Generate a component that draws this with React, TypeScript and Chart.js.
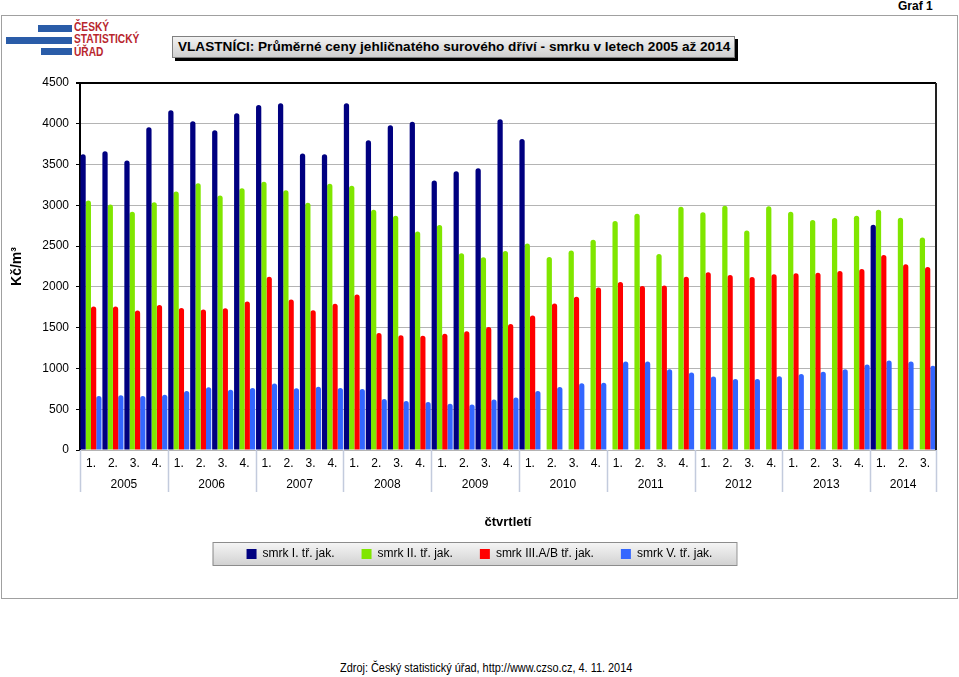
import React, { useEffect, useRef } from "react";
import { Chart, registerables } from "chart.js";

Chart.register(...registerables);

const years = ["2005", "2006", "2007", "2008", "2009", "2010", "2011", "2012", "2013", "2014"];
const quartersPerYear = [4, 4, 4, 4, 4, 4, 4, 4, 4, 3];
const quarterLabels = [
  "1.", "2.", "3.", "4.", "1.", "2.", "3.", "4.", "1.", "2.", "3.", "4.",
  "1.", "2.", "3.", "4.", "1.", "2.", "3.", "4.", "1.", "2.", "3.", "4.",
  "1.", "2.", "3.", "4.", "1.", "2.", "3.", "4.", "1.", "2.", "3.", "4.",
  "1.", "2.", "3.",
];
const yTicks = [0, 500, 1000, 1500, 2000, 2500, 3000, 3500, 4000, 4500];

const smrkI = [
  3625, 3662, 3551, 3958, 4167, 4032, 3921, 4130, 4229, 4253, 3637, 3625,
  4253, 3797, 3982, 4024, 3304, 3419, 3456, 4057, 3814, null, null, null,
  null, null, null, null, null, null, null, null, null, null, null, null,
  2762, null, null,
];
const smrkII = [
  3058, 3009, 2922, 3037, 3169, 3271, 3120, 3210, 3288, 3185, 3033, 3264,
  3239, 2947, 2873, 2680, 2758, 2413, 2364, 2441, 2531, 2367, 2445, 2577,
  2807, 2898, 2404, 2984, 2914, 2996, 2692, 2988, 2922, 2820, 2845, 2873,
  2947, 2848, 2605,
];
const smrkIII = [
  1759, 1759, 1710, 1779, 1742, 1722, 1739, 1821, 2125, 1846, 1714, 1792,
  1907, 1434, 1406, 1402, 1426, 1455, 1508, 1545, 1648, 1796, 1878, 1994,
  2059, 2010, 2018, 2125, 2178, 2145, 2121, 2154, 2166, 2174, 2195, 2219,
  2392, 2277, 2244,
];
const smrkV = [
  662, 670, 662, 678, 724, 768, 740, 761, 814, 756, 777, 761,
  748, 625, 600, 588, 567, 559, 620, 645, 724, 773, 818, 826,
  1085, 1085, 990, 949, 900, 872, 872, 904, 933, 958, 990, 1048,
  1097, 1085, 1032,
];
const seriesNames = ["smrk I. tř. jak.", "smrk II. tř. jak.", "smrk III.A/B tř. jak.", "smrk V. tř. jak."];
const seriesColors = ["#000080", "#80e600", "#ff0000", "#3366ff"];

const FONT = '"Liberation Sans", Arial, sans-serif';

const decorPlugin = {
  id: "decor",
  beforeDraw(chart: any) {
    const lg = chart.legend;
    const hb = lg && lg.legendHitBoxes;
    if (hb && hb.length) {
      const ctx = chart.ctx;
      const left = hb[0].left - 34;
      const last = hb[hb.length - 1];
      const right = last.left + last.width + 24;
      const top = hb[0].top - 6;
      const bottom = hb[0].top + hb[0].height + 5;
      ctx.save();
      const g = ctx.createLinearGradient(0, top, 0, bottom);
      g.addColorStop(0, "#f6f6f6");
      g.addColorStop(1, "#d2d2d2");
      ctx.fillStyle = g;
      ctx.fillRect(left, top, right - left, bottom - top);
      ctx.strokeStyle = "#8c8c8c";
      ctx.lineWidth = 1;
      ctx.strokeRect(left + 0.5, top + 0.5, right - left, bottom - top);
      ctx.restore();
    }
  },
  afterDraw(chart: any) {
    const { ctx, chartArea } = chart;
    const xs = chart.scales.x;
    ctx.save();
    ctx.strokeStyle = "#222";
    ctx.lineWidth = 2;
    ctx.beginPath();
    ctx.moveTo(chartArea.right, chartArea.top);
    ctx.lineTo(chartArea.right, chartArea.bottom);
    ctx.stroke();
    let b = 0;
    const bounds = [0];
    quartersPerYear.forEach((q) => {
      b += q;
      bounds.push(b);
    });
    ctx.strokeStyle = "#c3cbdd";
    ctx.lineWidth = 1.5;
    bounds.forEach((bd) => {
      const x = Math.round(xs.getPixelForValue(bd - 0.5)) + 0.5;
      ctx.beginPath();
      ctx.moveTo(x, chartArea.bottom);
      ctx.lineTo(x, chartArea.bottom + 42);
      ctx.stroke();
    });
    ctx.fillStyle = "#000";
    ctx.font = "12px " + FONT;
    ctx.textAlign = "center";
    ctx.textBaseline = "middle";
    years.forEach((yr, i) => {
      const x0 = xs.getPixelForValue(bounds[i] - 0.5);
      const x1 = xs.getPixelForValue(bounds[i + 1] - 0.5);
      ctx.fillText(yr, (x0 + x1) / 2, chartArea.bottom + 35);
    });
    ctx.restore();
  },
};

function ChartCanvas() {
  const ref = useRef<HTMLCanvasElement>(null);
  useEffect(() => {
    if (!ref.current) return;
    const data = [smrkI, smrkII, smrkIII, smrkV];
    const chart = new Chart(ref.current, {
      type: "bar",
      data: {
        labels: quarterLabels,
        datasets: data.map((d, i) => ({
          label: seriesNames[i],
          data: d,
          backgroundColor: seriesColors[i],
          borderWidth: 0,
          borderRadius: { topLeft: 3, topRight: 3, bottomLeft: 0, bottomRight: 0 },
          borderSkipped: "bottom",
          barPercentage: 1,
          categoryPercentage: 0.96,
        })),
      },
      options: {
        responsive: false,
        animation: false,
        devicePixelRatio: 1,
        layout: { padding: { left: 23, right: 23, top: 23, bottom: 10 } },
        plugins: {
          tooltip: { enabled: false },
          legend: {
            position: "bottom",
            labels: {
              boxWidth: 10,
              boxHeight: 10,
              padding: 27,
              color: "#000",
              font: { family: FONT, size: 12 },
            },
          },
        },
        scales: {
          x: {
            grid: { display: false, drawTicks: false },
            border: { display: false },
            ticks: {
              autoSkip: false,
              maxRotation: 0,
              color: "#000",
              padding: 6,
              font: { family: FONT, size: 12 },
            },
            title: {
              display: true,
              text: "čtvrtletí",
              color: "#000",
              font: { family: FONT, size: 13, weight: "bold" },
              padding: { top: 0, bottom: -9 },
            },
            afterFit(scale: any) {
              scale.height = 71;
            },
          },
          y: {
            min: 0,
            max: 4500,
            afterBuildTicks(scale: any) {
              scale.ticks = yTicks.map((v) => ({ value: v }));
            },
            grid: {
              color: (c: any) => (c.tick && c.tick.value === 4500 ? "#000" : "#b4b4b4"),
              lineWidth: (c: any) => (c.tick && c.tick.value === 4500 ? 2 : 1),
              tickColor: "#000",
              tickLength: 4,
            },
            border: { display: true, color: "#000", width: 2 },
            ticks: {
              color: "#000",
              padding: 7,
              font: { family: FONT, size: 12 },
              callback: (v: any) => String(v),
            },
            title: {
              display: true,
              text: "Kč/m³",
              color: "#000",
              font: { family: FONT, size: 14, weight: "bold" },
              padding: { top: -14, bottom: 0 },
            },
            afterFit(scale: any) {
              scale.width = 57;
            },
          },
        },
      },
      plugins: [decorPlugin],
    } as any);
    return () => chart.destroy();
  }, []);
  return <canvas ref={ref} width={959} height={520} style={{ position: "absolute", left: 0, top: 60, width: 959, height: 520 }} />;
}

export default function App() {
  const bar = (left: number, top: number, width: number) => (
    <div style={{ position: "absolute", left, top, width, height: 7, background: "#2a5ca8" }} />
  );
  return (
    <div style={{ position: "absolute", left: 0, top: 0, width: 959, height: 677, background: "#fff", fontFamily: FONT, overflow: "hidden" }}>
      <div style={{ position: "absolute", left: 898, top: 0, fontSize: 12, fontWeight: "bold", lineHeight: "13px" }}>Graf 1</div>
      <div style={{ position: "absolute", left: 1, top: 15, width: 957, height: 584, border: "1px solid #a0a0a0", boxSizing: "border-box" }} />
      {bar(38, 25, 34)}
      {bar(6, 37, 66)}
      {bar(41, 48, 31)}
      <div
        style={{
          position: "absolute",
          left: 74,
          top: 21,
          color: "#b8262d",
          fontWeight: "bold",
          fontSize: 12,
          lineHeight: "12.3px",
          transform: "scaleX(0.85)",
          transformOrigin: "left top",
          whiteSpace: "nowrap",
        }}
      >
        <div>ČESKÝ</div>
        <div>STATISTICKÝ</div>
        <div>ÚŘAD</div>
      </div>
      <div style={{ position: "absolute", left: 175, top: 39, width: 563, height: 22, background: "#000" }} />
      <div
        style={{
          position: "absolute",
          left: 172,
          top: 36,
          width: 563,
          height: 22,
          boxSizing: "border-box",
          border: "1px solid #808080",
          background: "linear-gradient(#f2f2f2, #cfcfcf)",
          fontSize: 13.6,
          fontWeight: "bold",
          lineHeight: "20px",
          paddingLeft: 5,
          whiteSpace: "nowrap",
        }}
      >
        VLASTNÍCI: Průměrné ceny jehličnatého surového dříví - smrku v letech 2005 až 2014
      </div>
      <ChartCanvas />
      <div
        style={{
          position: "absolute",
          left: 340,
          top: 660,
          fontSize: 12,
          lineHeight: "16px",
          whiteSpace: "nowrap",
          transform: "scaleX(0.91)",
          transformOrigin: "left top",
        }}
      >
        Zdroj: Český statistický úřad, http://www.czso.cz, 4. 11. 2014
      </div>
    </div>
  );
}
